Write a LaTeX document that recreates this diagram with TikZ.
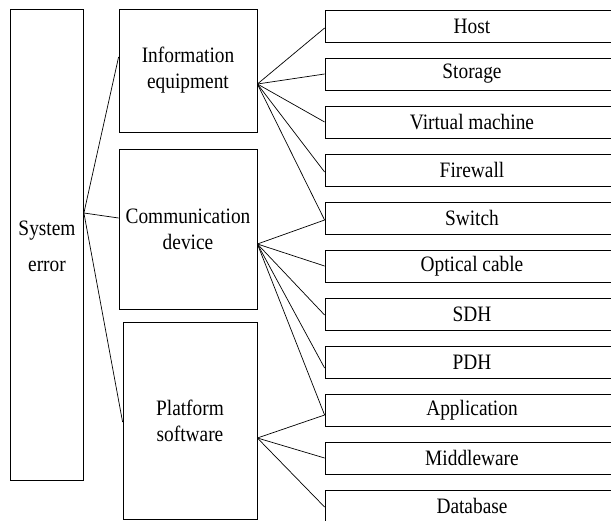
\documentclass[tikz,border=0pt]{standalone}
\usepackage{fontspec}
\setmainfont[FakeStretch=0.88]{Liberation Serif}
\begin{document}
\begin{tikzpicture}[x=1pt,y=-1pt,
  box/.style={draw, line width=0.8pt, inner sep=0pt, align=center,
              font=\fontsize{22}{26}\selectfont},
  leaf/.style={box, minimum width=294pt, minimum height=32pt},
  link/.style={line width=0.7pt}]
\useasboundingbox (0,0) rectangle (611,520);
\clip (0,0) rectangle (611,520);

% main boxes
\node[box, minimum width=73pt, minimum height=471pt] (sys) at (47,244.5) {};
\node[align=center, inner sep=0pt, font=\fontsize{22}{36}\selectfont] (systxt) at (47,246.5) {System\\error};
\node[box, minimum width=138pt, minimum height=123pt] (info) at (188,70.5) {Information\\equipment};
\node[box, minimum width=138pt, minimum height=160pt] (comm) at (188,229) {Communication\\device};
\node[box, minimum width=134pt, minimum height=197pt] (plat) at (190,420.5) {Platform\\software};

% leaves
\node[leaf] (host) at (472,26)  {Host};
\node[leaf] (stor) at (472,74)  {Storage};
\node[leaf] (vm)   at (472,122) {Virtual machine};
\node[leaf] (fw)   at (472,170) {Firewall};
\node[leaf] (sw)   at (472,218) {Switch};
\node[leaf] (opt)  at (472,266) {Optical cable};
\node[leaf] (sdh)  at (472,314) {SDH};
\node[leaf] (pdh)  at (472,362) {PDH};
\node[leaf] (app)  at (472,410) {Application};
\node[leaf] (mid)  at (472,458) {Middleware};
\node[leaf] (db)   at (472,506) {Database};

% attachment points
\coordinate (sysR)  at ([yshift=31.5pt]sys.east);
\coordinate (infoL) at ([yshift=13.5pt]info.west);
\coordinate (commL) at ([yshift=11pt]comm.west);
\coordinate (platL) at ([yshift=-1.5pt]plat.west);
\coordinate (infoR) at ([yshift=-13.5pt]info.east);
\coordinate (commR) at ([yshift=-15pt]comm.east);
\coordinate (platR) at ([yshift=-17.5pt]plat.east);
\coordinate (hostL) at ([yshift=-2pt]host.west);
\coordinate (storL) at (stor.west);
\coordinate (vmL)   at (vm.west);
\coordinate (fwL)   at ([yshift=-2pt]fw.west);
\coordinate (swL)   at ([yshift=-2pt]sw.west);
\coordinate (optL)  at (opt.west);
\coordinate (sdhL)  at ([yshift=-1pt]sdh.west);
\coordinate (pdhL)  at ([yshift=-6pt]pdh.west);
\coordinate (appL)  at ([yshift=-5pt]app.west);
\coordinate (midL)  at (mid.west);
\coordinate (dbL)   at ([yshift=-1pt]db.west);

% connectors
\draw[link] (sysR) -- (infoL);
\draw[link] (sysR) -- (commL);
\draw[link] (sysR) -- (platL);

\foreach \t in {hostL,storL,vmL,fwL,swL}
  \draw[link] (infoR) -- (\t);
\foreach \t in {swL,optL,sdhL,pdhL,appL}
  \draw[link] (commR) -- (\t);
\foreach \t in {appL,midL,dbL}
  \draw[link] (platR) -- (\t);
\end{tikzpicture}
\end{document}
